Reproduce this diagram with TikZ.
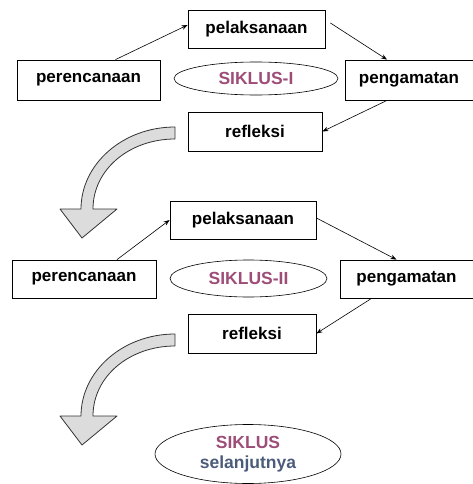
\documentclass[tikz,border=0pt]{standalone}
\usepackage{fontspec}
\setmainfont{Liberation Sans}
\usetikzlibrary{arrows.meta, positioning, shapes.geometric}
\definecolor{siklusred}{HTML}{9E4D78}
\definecolor{siklusblue}{HTML}{4B5B7A}
\definecolor{arrowgray}{HTML}{DCDCDC}
\tikzset{
    cycle/.style={x=1pt, y=-1pt, >={Stealth[length=6pt,width=4.5pt]}, font=\fontsize{17}{19}\selectfont\bfseries},
    stage/.style={draw, line width=0.8pt, minimum height=38pt, inner sep=0pt},
    siklus/.style={draw, ellipse, line width=0.6pt, inner sep=0pt, text=siklusred, font=\fontsize{17.5}{20}\selectfont\bfseries},
    flow/.style={->, line width=0.6pt},
    % the big bent arrow leading to the next cycle
    bigarrow/.style={draw=black!80, fill=arrowgray, line width=0.8pt, line join=round},
}
\newcommand{\turnarrow}[1]{%
  \draw[bigarrow, shift={#1}] (175,127) .. controls (123,127) and (81,164) .. (81,209)
     -- (60,209) -- (82,238) -- (117,209) -- (93,209)
     .. controls (93,169) and (130,139) .. (175,139) -- cycle;}

\begin{document}
\begin{tikzpicture}[cycle]
    \useasboundingbox (0,0) rectangle (473,484);

    % cycle I
    \node[stage, minimum width=137pt]                     (pel1)  at (256.5,29) {pelaksanaan};
    \node[stage, minimum width=143pt, minimum height=40pt] (per1)  at (88.5,80)  {perencanaan};
    \node[stage, minimum width=128pt, minimum height=40pt] (peng1) at (409,80)   {pengamatan};
    \node[siklus, minimum width=164pt, minimum height=33pt] (sik1) at (256,78.5) {SIKLUS-I};
    \node[stage, minimum width=134pt, minimum height=39pt] (ref1)  at (255,131.5) {refleksi};

    \draw[flow] ([xshift=27pt]per1.north) -- ([yshift=4pt]pel1.west);
    \draw[flow] ([xshift=5pt, yshift=6pt]pel1.east) -- ([xshift=-22pt]peng1.north);
    \draw[flow] ([xshift=-22pt]peng1.south) -- (ref1.east);

    \turnarrow{(0,0)}

    % cycle II
    \node[stage, minimum width=146pt]                     (pel2)  at (243,220)   {pelaksanaan};
    \node[stage, minimum width=144pt]                     (per2)  at (84,279)    {perencanaan};
    \node[stage, minimum width=133pt]                     (peng2) at (406.5,279) {pengamatan};
    \node[siklus, minimum width=157pt, minimum height=37pt] (sik2) at (248.5,278.5) {SIKLUS-II};
    \node[stage, minimum width=128pt, minimum height=39pt] (ref2)  at (252,333.5) {refleksi};

    \draw[flow] ([xshift=33pt]per2.north) -- (pel2.west);
    \draw[flow] ([yshift=2pt]pel2.east) -- ([xshift=-10pt]peng2.north);
    \draw[flow] ([xshift=-35pt]peng2.south) -- (ref2.east);

    \turnarrow{(0,207)}

    % next cycle
    \node[siklus, minimum width=186pt, minimum height=59pt, align=center] (sik3) at (248,454)
        {SIKLUS\\\textcolor{siklusblue}{selanjutnya}};
\end{tikzpicture}
\end{document}
